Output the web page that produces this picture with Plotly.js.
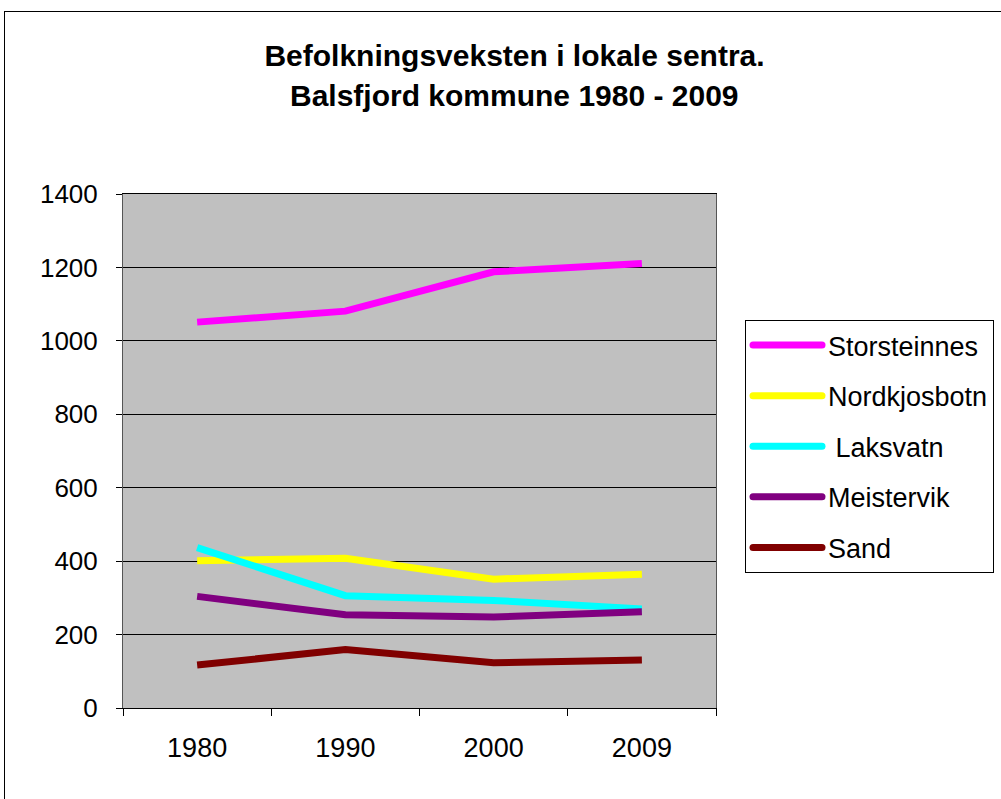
<!DOCTYPE html>
<html>
<head>
<meta charset="utf-8">
<script src="https://cdn.plot.ly/plotly-3.0.1.min.js"></script>
<style>
  body { margin: 0; padding: 0; background: #fff; }
  #chart { position: absolute; left: 0; top: 0; width: 1001px; height: 799px; }
  #frame { position: absolute; left: 4px; top: 11px; width: 1000px; height: 800px; border: 1px solid #000; pointer-events: none; box-sizing: border-box; }
</style>
</head>
<body>
<div id="chart"></div>
<div id="frame"></div>
<script>
const years = ['1980', '1990', '2000', '2009'];
const storsteinnes = [1051, 1081, 1188, 1211];
const nordkjosbotn = [401, 408, 351, 364];
const laksvatn = [437, 306, 293, 270];
const meistervik = [304, 254, 248, 262];
const sand = [117, 159, 123, 131];
const yTicks = [0, 200, 400, 600, 800, 1000, 1200, 1400];

const seriesNames = ['Storsteinnes', 'Nordkjosbotn', ' Laksvatn', 'Meistervik', 'Sand'];
const seriesValues = [storsteinnes, nordkjosbotn, laksvatn, meistervik, sand];
const seriesColors = ['#FF00FF', '#FFFF00', '#00FFFF', '#800080', '#800000'];

const traces = seriesNames.map((n, i) => ({
  type: 'scatter',
  mode: 'lines',
  x: years,
  y: seriesValues[i],
  name: n,
  legendgroup: 'g' + i,
  line: { color: seriesColors[i], width: 7 }
}));

const font = 'Liberation Sans, Arial, sans-serif';
const layout = {
  width: 1001,
  height: 799,
  margin: { l: 123, r: 285, t: 194, b: 91, autoexpand: false },
  paper_bgcolor: '#ffffff',
  plot_bgcolor: '#C0C0C0',
  font: { family: font, color: '#000', size: 27 },
  title: {
    text: '<b>Befolkningsveksten i lokale sentra.</b>',
    font: { family: font, size: 30, color: '#000' },
    x: 0.514, xref: 'container', xanchor: 'center',
    y: 1 - 55 / 799, yref: 'container', yanchor: 'middle'
  },
  annotations: [{
    text: '<b>Balsfjord kommune 1980 - 2009</b>',
    font: { family: font, size: 30, color: '#000' },
    xref: 'paper', yref: 'paper',
    x: (514 - 123) / 593, y: (708 - 95) / 514,
    xanchor: 'center', yanchor: 'middle', showarrow: false
  }],
  xaxis: {
    type: 'category',
    tickson: 'boundaries',
    ticks: 'outside', ticklen: 7, tickcolor: '#000', tickwidth: 1,
    showline: true, linecolor: '#000', linewidth: 1, mirror: true,
    showgrid: false,
    ticklabelstandoff: 16,
    tickfont: { family: font, size: 27, color: '#000' },
    range: [-0.5, 3.5]
  },
  yaxis: {
    range: [0, 1400],
    tickvals: yTicks,
    ticks: 'outside', ticklen: 6, tickcolor: '#000', tickwidth: 1,
    showline: true, linecolor: '#555', linewidth: 1, mirror: true,
    showgrid: true, gridcolor: '#000', gridwidth: 1,
    zeroline: false,
    ticklabelstandoff: 13,
    tickfont: { family: font, size: 26, color: '#000' }
  },
  showlegend: true,
  legend: {
    x: (745 - 123) / 593, xanchor: 'left',
    y: (708 - 320) / 514, yanchor: 'top',
    bgcolor: '#ffffff',
    bordercolor: '#000', borderwidth: 1,
    font: { family: font, size: 27, color: '#000' },
    tracegroupgap: 12.5,
    itemwidth: 72
  }
};

Plotly.newPlot('chart', traces, layout, { displayModeBar: false, staticPlot: true }).then(gd => {
  gd.querySelectorAll('.legend .legendlines path').forEach(p => {
    p.setAttribute('d', 'M7,0h69');
    p.style.strokeLinecap = 'round';
  });
});
</script>
</body>
</html>
